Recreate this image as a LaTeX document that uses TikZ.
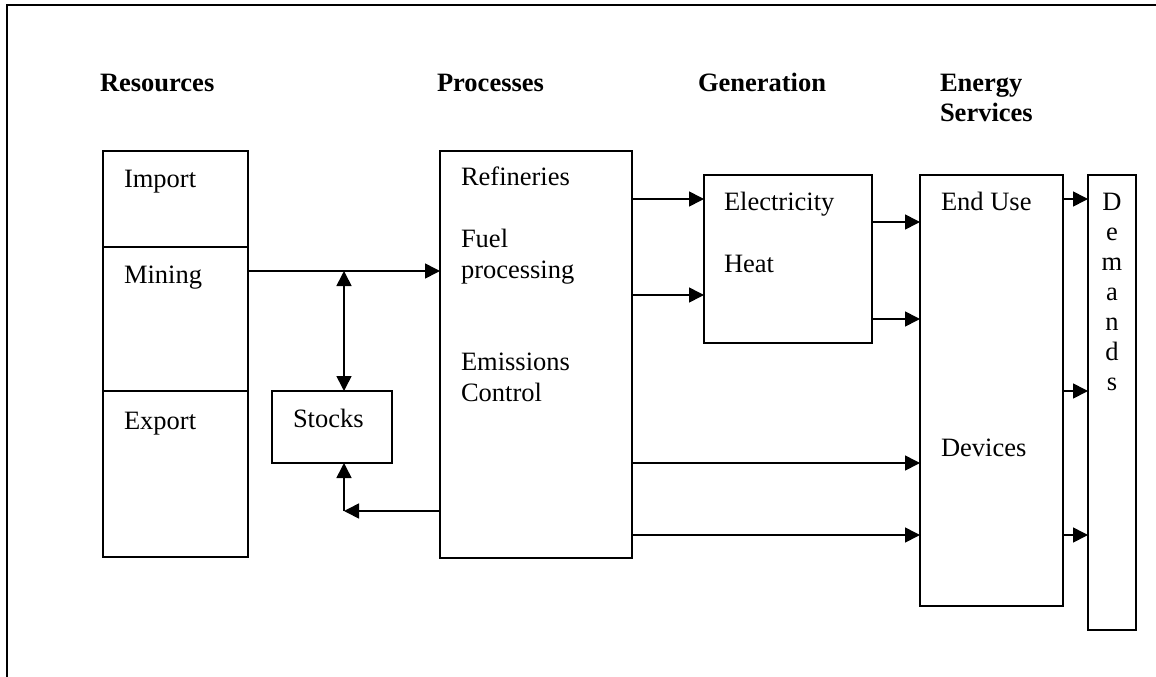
\documentclass[tikz,border=0pt]{standalone}
\usepackage{fontspec}
\setmainfont{Liberation Serif}
\usetikzlibrary{arrows.meta,fit}
\begin{document}
\begin{tikzpicture}[x=1pt,y=-1pt,
  box/.style={draw,line width=1.8pt,inner sep=0pt,outer sep=0pt},
  txt/.style={inner sep=0pt,outer sep=0pt,anchor=base west,
    font=\fontsize{26.5}{30.5}\selectfont,align=left},
  head/.style={txt,font=\fontsize{26.5}{30}\selectfont\bfseries},
  arr/.style={line width=1.6pt,-{Triangle[length=15pt,width=15pt]}},
  dbl/.style={line width=1.6pt,{Triangle[length=15pt,width=15pt]}-{Triangle[length=15pt,width=15pt]}}]
\useasboundingbox (0,0) rectangle (1156,677);

% outer frame (left and top edges)
\draw[line width=2.8pt] (7,677) -- (7,5) -- (1156,5);

% column headings (multi-line nodes sit on the baseline of their last line)
\node[head] (hres)  at (100,91) {Resources};
\node[head] (hproc) at (437,91) {Processes};
\node[head] (hgen)  at (698,91) {Generation};
\node[head] (hserv) at (940,121) {Energy\\Services};

% resources column
\node[box,fit={(103,151) (248,247)}] (imp) {};
\node[box,fit={(103,247) (248,391)}] (mine) {};
\node[box,fit={(103,391) (248,557)}] (exp) {};
\node[txt] (timp)  at (124,187) {Import};
\node[txt] (tmine) at (124,283) {Mining};
\node[txt] (texp)  at (124,429) {Export};

% stocks
\node[box,fit={(272,391) (392,463)}] (stock) {};
\node[txt] (tstock) at (293,427) {Stocks};

% processes
\node[box,fit={(440,151) (632,558)}] (proc) {};
\node[txt] (tref)  at (461,185) {Refineries};
\node[txt] (tfuel) at (461,278) {Fuel\\processing};
\node[txt] (temi)  at (461,401) {Emissions\\Control};

% generation
\node[box,fit={(704,175) (872,343)}] (gen) {};
\node[txt] (telec) at (724,210) {Electricity};
\node[txt] (theat) at (724,272) {Heat};

% end use and devices
\node[box,fit={(920,175) (1063,606)}] (use) {};
\node[txt] (tuse) at (941,210) {End Use};
\node[txt] (tdev) at (941,456) {Devices};

% demands, spelled downwards
\node[box,fit={(1088,175) (1136,630)}] (dem) {};
\node[txt,anchor=base,align=center,font=\fontsize{26.5}{30}\selectfont] (tdem) at (1112,390) {D\\e\\m\\a\\n\\d\\s};

% flows
\coordinate (split) at (344,271);
\coordinate (back) at (344,511);
\draw[arr] (mine.east |- split) -- (proc.west |- split);
\draw[dbl] (split) -- (split |- stock.north);
\draw[arr] (proc.west |- back) -- (back);
\draw[arr] (back) -- (back |- stock.south);

\draw[arr] (proc.east |- 0,199) -- (gen.west |- 0,199);
\draw[arr] (proc.east |- 0,295) -- (gen.west |- 0,295);
\draw[arr] (gen.east |- 0,222) -- (use.west |- 0,222);
\draw[arr] (gen.east |- 0,319) -- (use.west |- 0,319);
\draw[arr] (proc.east |- 0,463) -- (use.west |- 0,463);
\draw[arr] (proc.east |- 0,535) -- (use.west |- 0,535);

\draw[arr] (use.east |- 0,199) -- (dem.west |- 0,199);
\draw[arr] (use.east |- 0,391) -- (dem.west |- 0,391);
\draw[arr] (use.east |- 0,535) -- (dem.west |- 0,535);
\end{tikzpicture}
\end{document}
